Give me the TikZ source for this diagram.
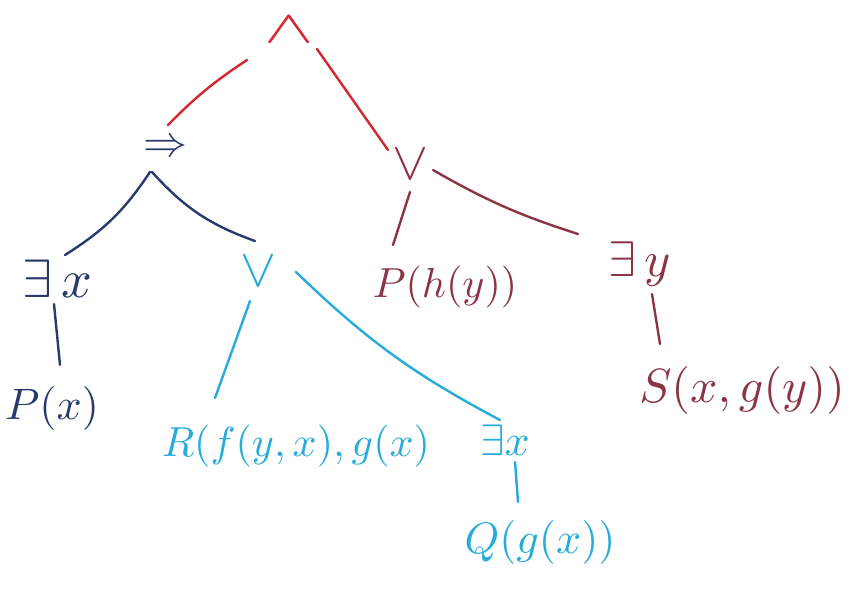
\documentclass[tikz,border=0pt]{standalone}
\usepackage{graphicx}
\definecolor{cred}{RGB}{214,38,48}
\definecolor{cnavy}{RGB}{42,58,108}
\definecolor{cblue}{RGB}{38,172,218}
\definecolor{cmaroon}{RGB}{138,52,68}
\tikzset{
  lbl/.style={inner sep=0pt, anchor=center},
  edge/.style={line width=2.4pt, line cap=round},
}
\newcommand{\sz}[2]{\scalebox{#1}{$#2$}}
\begin{document}
\begin{tikzpicture}[x=1pt,y=-1pt]
\useasboundingbox (0,0) rectangle (852,590);
% nodes
\node[lbl,text=cred] (root) at (289,30) {\scalebox{7.4}[4.6]{$\wedge$}};
\node[lbl,text=cnavy] (impl) at (165,148) {\sz{4.4}{\Rightarrow}};
\node[lbl,text=cnavy] (ex1) at (57,279) {\sz{5.4}{\exists\, x}};
\node[lbl,text=cnavy] (px) at (52,408) {\sz{4.4}{P(x)}};
\node[lbl,text=cblue] (vb) at (258,271) {\sz{5.4}{\vee}};
\node[lbl,text=cblue] (rl) at (296,446) {\sz{4.2}{R(f(y,x),g(x)}};
\node[lbl,text=cblue] (ex2) at (505,440) {\sz{4.4}{\exists x}};
\node[lbl,text=cblue] (q) at (540,542) {\sz{4.4}{Q(g(x))}};
\node[lbl,text=cmaroon] (vm) at (410,164) {\sz{5.4}{\vee}};
\node[lbl,text=cmaroon] (ph) at (445,287) {\sz{4.2}{P(h(y))}};
\node[lbl,text=cmaroon] (ey) at (640,264) {\sz{5.0}{\exists\, y}};
\node[lbl,text=cmaroon] (s) at (742,390) {\sz{4.8}{S(x,g(y))}};
% edges
\draw[edge,cred] ([shift={(-42,30)}]root.center) to[bend right=6] ([shift={(3,-23)}]impl.center);
\draw[edge,cred] ([shift={(28,19)}]root.center) -- ([shift={(-22,-14)}]vm.center);
\draw[edge,cnavy] ([shift={(-15,24)}]impl.center) to[bend left=12] ([shift={(8,-24)}]ex1.center);
\draw[edge,cnavy] ([shift={(-13,24)}]impl.center) to[bend right=14] ([shift={(-3,-30)}]vb.center);
\draw[edge,cnavy] ([shift={(-3,25)}]ex1.center) -- ([shift={(8,-43)}]px.center);
\draw[edge,cblue] ([shift={(-8,30)}]vb.center) -- ([shift={(-81,-48)}]rl.center);
\draw[edge,cblue] ([shift={(38,1)}]vb.center) to[bend right=8] ([shift={(-5,-20)}]ex2.center);
\draw[edge,cblue] ([shift={(10,22)}]ex2.center) -- ([shift={(-22,-40)}]q.center);
\draw[edge,cmaroon] ([shift={(0,28)}]vm.center) -- ([shift={(-52,-42)}]ph.center);
\draw[edge,cmaroon] ([shift={(23,6)}]vm.center) to[bend right=6] ([shift={(-62,-30)}]ey.center);
\draw[edge,cmaroon] ([shift={(12,30)}]ey.center) -- ([shift={(-82,-46)}]s.center);
\end{tikzpicture}
\end{document}
